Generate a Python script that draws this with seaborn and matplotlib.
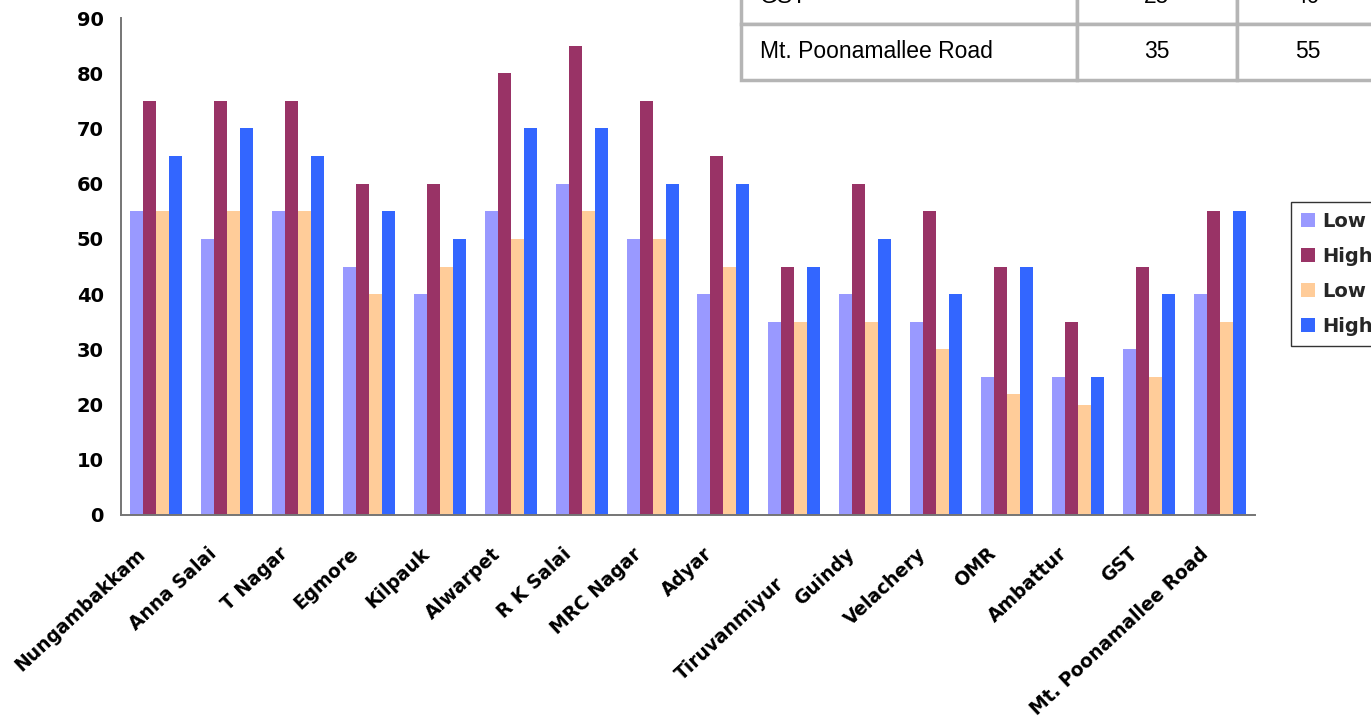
import matplotlib
matplotlib.use("Agg")
import matplotlib.pyplot as plt
import matplotlib.transforms as mtransforms
from matplotlib.patches import Patch
from matplotlib.table import Table
import numpy as np
import pandas as pd
import seaborn as sns

# ---- data -------------------------------------------------------------
areas = ["Nungambakkam", "Anna Salai", "T Nagar", "Egmore", "Kilpauk",
         "Alwarpet", "R K Salai", "MRC Nagar", "Adyar", "Tiruvanmiyur",
         "Guindy", "Velachery", "OMR", "Ambattur", "GST",
         "Mt. Poonamallee Road"]
low_a  = [55, 50, 55, 45, 40, 55, 60, 50, 40, 35, 40, 35, 25, 25, 30, 40]
high_a = [75, 75, 75, 60, 60, 80, 85, 75, 65, 45, 60, 55, 45, 35, 45, 55]
low_b  = [55, 55, 55, 40, 45, 50, 55, 50, 45, 35, 35, 30, 22, 20, 25, 35]
high_b = [65, 70, 65, 55, 50, 70, 70, 60, 60, 45, 50, 40, 45, 25, 40, 55]

series_keys = ["low_a", "high_a", "low_b", "high_b"]
legend_labels = ["Low", "High", "Low", "High"]
colors = ["#9999FF", "#993366", "#FFCC99", "#3366FF"]
yticks = list(range(0, 91, 10))

df = pd.DataFrame({"area": areas, "low_a": low_a, "high_a": high_a,
                   "low_b": low_b, "high_b": high_b})
long_df = df.melt(id_vars="area", value_vars=series_keys,
                  var_name="series", value_name="value")

# ---- style ------------------------------------------------------------
sns.set_theme(style="white")
plt.rcParams["font.family"] = ["DejaVu Sans"]
BOLD = dict(family="DejaVu Sans", size=14, weight="bold")
BOLD_X = dict(family="DejaVu Sans", size=13.4, weight="bold")

W, H = 1371, 720
fig = plt.figure(figsize=(W / 100, H / 100), dpi=100)
ax = fig.add_axes([121 / W, 1 - 515 / H, (1255 - 121) / W, (515 - 18) / H])

sns.barplot(data=long_df, x="area", y="value", hue="series",
            hue_order=series_keys, order=areas,
            palette=dict(zip(series_keys, colors)), saturation=1,
            width=0.733, gap=0, linewidth=0, edgecolor="none",
            legend=False, ax=ax)

ax.set_xlim(-0.5, len(areas) - 0.5)
ax.set_ylim(0, 90)
ax.set_yticks(yticks)
ax.set_xlabel("")
ax.set_ylabel("")
ax.grid(False)

for side in ("top", "right"):
    ax.spines[side].set_visible(False)
for side in ("left", "bottom"):
    ax.spines[side].set_color("#757575")
    ax.spines[side].set_linewidth(1.4)

ax.tick_params(axis="y", direction="out", length=5.5, width=1.2,
               color="#555555", pad=7)
ax.set_yticklabels([str(v) for v in yticks], fontdict=BOLD, color="black")

# category separators on the x axis
ax.set_xticks(np.arange(-0.5, len(areas)), minor=True)
ax.tick_params(axis="x", which="minor", direction="out", length=5.5,
               width=1.2, color="#555555")
ax.tick_params(axis="x", which="major", length=0, pad=21)
ax.set_xticks(range(len(areas)))
ax.set_xticklabels(areas, rotation=43, ha="right", va="top",
                   fontdict=BOLD_X, color="black")

shift = mtransforms.ScaledTranslation(-7 / 100, 0, fig.dpi_scale_trans)
shift_low = mtransforms.ScaledTranslation(-7 / 100, -30 / 100, fig.dpi_scale_trans)
for lab in ax.get_xticklabels():
    if lab.get_text() == "Tiruvanmiyur":
        lab.set_transform(lab.get_transform() + shift_low)
    else:
        lab.set_transform(lab.get_transform() + shift)

# ---- legend -----------------------------------------------------------
handles = [Patch(facecolor=c, edgecolor="none") for c in colors]
leg = fig.legend(handles, legend_labels, loc="upper left",
                 bbox_to_anchor=(1291 / W, 1 - 202 / H),
                 borderaxespad=0, frameon=True, fancybox=False,
                 prop=BOLD,
                 handlelength=0.72, handleheight=0.72,
                 handletextpad=0.4, labelspacing=0.83, borderpad=0.5)
leg.get_frame().set_edgecolor("black")
leg.get_frame().set_linewidth(1.0)

# ---- data table (last two areas, second pair of series) ---------------
rows = [[areas[i], str(low_b[i]), str(high_b[i])] for i in (-2, -1)]
col_px = [336, 160, 141]
tax = fig.add_axes([741 / W, 1 - 80 / H, sum(col_px) / W, 112 / H], zorder=5)
tax.set_axis_off()
tbl = Table(tax, bbox=[0, 0, 1, 1])
for r, row in enumerate(rows):
    for c, txt in enumerate(row):
        cell = tbl.add_cell(r, c, width=col_px[c] / sum(col_px), height=0.5,
                            text=txt, loc="left" if c == 0 else "center",
                            edgecolor="#b5b5b5", facecolor="white")
        cell.set_linewidth(2.5)
        if c == 0:
            cell.PAD = 19 / col_px[0]
        cell.get_text().set_fontsize(16.5)
        cell.get_text().set_family("Liberation Sans")
        cell.get_text().set_color("black")
tbl.auto_set_font_size(False)
tax.add_table(tbl)

fig.savefig("out.png", dpi=100, facecolor="white")
